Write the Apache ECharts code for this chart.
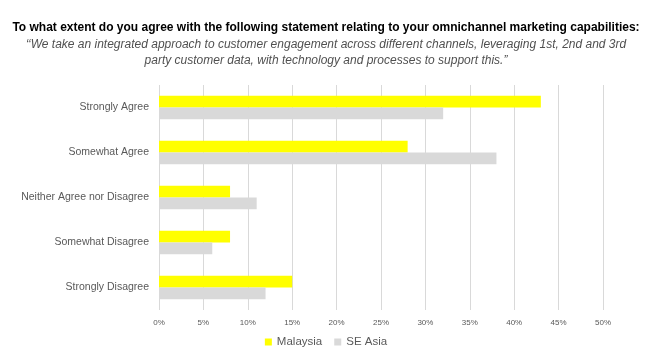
<!DOCTYPE html>
<html><head><meta charset="utf-8">
<script src="https://cdn.jsdelivr.net/npm/echarts@6/dist/echarts.min.js"></script>
<style>html,body{margin:0;padding:0;background:#fff}#c{width:652px;height:357px}</style>
</head><body><div id="c"></div>
<script>
const categories = ["Strongly Agree", "Somewhat Agree", "Neither Agree nor Disagree", "Somewhat Disagree", "Strongly Disagree"];
const malaysia = [43, 28, 8, 8, 15];
const seAsia = [32, 38, 11, 6, 12];
const xTicks = [0, 5, 10, 15, 20, 25, 30, 35, 40, 45, 50];
const titleText = "To what extent do you agree with the following statement relating to your omnichannel marketing capabilities:";
const subText = "\u2018\u2018We take an integrated approach to customer engagement across different channels, leveraging 1st, 2nd and 3rd\nparty customer data, with technology and processes to support this.\u201d";

const chart = echarts.init(document.getElementById('c'), null, {renderer: 'canvas'});
chart.setOption({
  animation: false,
  title: [
    {text: titleText, left: 'center', top: 17,
     textStyle: {fontFamily: 'Liberation Sans', fontWeight: 'bold', fontSize: 12, color: '#000'}},
    {text: subText, left: 'center', top: 32,
     textStyle: {fontFamily: 'Liberation Sans', fontStyle: 'italic', fontWeight: 'normal', fontSize: 12, color: '#505050', lineHeight: 16, align: 'center'}}
  ],
  grid: {left: 159, right: 49, top: 85, bottom: 47, containLabel: false},
  legend: {
    data: ['Malaysia', 'SE Asia'], bottom: 4, left: 'center', itemWidth: 7, itemHeight: 7, itemGap: 12,
    icon: 'rect', textStyle: {fontFamily: 'Liberation Sans', fontSize: 11.5, color: '#595959'}
  },
  xAxis: {
    type: 'value', min: xTicks[0], max: xTicks[xTicks.length - 1], interval: 5,
    axisLine: {show: false}, axisTick: {show: false},
    splitLine: {lineStyle: {color: '#d9d9d9', width: 1}},
    axisLabel: {formatter: '{value}%', fontFamily: 'Liberation Sans', fontSize: 8, color: '#595959', margin: 9}
  },
  yAxis: {
    type: 'category', data: categories, inverse: true,
    axisLine: {show: false}, axisTick: {show: false},
    axisLabel: {fontFamily: 'Liberation Sans', fontSize: 10.5, color: '#595959', margin: 10}
  },
  series: [
    {name: 'Malaysia', type: 'bar', data: malaysia, itemStyle: {color: '#ffff00'}, barGap: '0%', barCategoryGap: '48%'},
    {name: 'SE Asia', type: 'bar', data: seAsia, itemStyle: {color: '#d9d9d9'}, barGap: '0%', barCategoryGap: '48%'}
  ]
});
</script></body></html>
